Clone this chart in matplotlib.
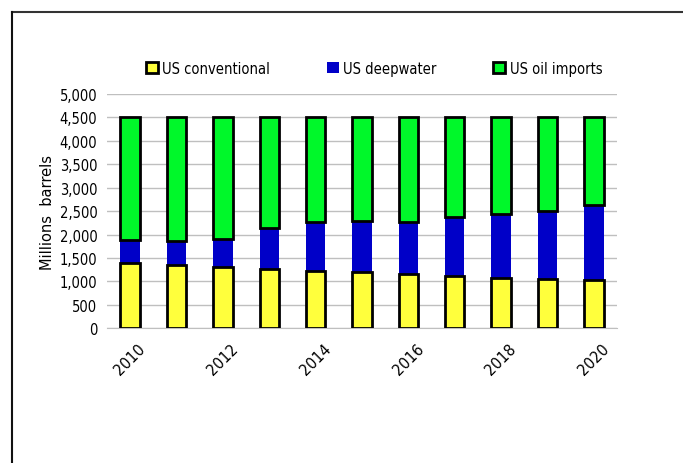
import numpy as np
import matplotlib
matplotlib.use('Agg')
import matplotlib.pyplot as plt
from matplotlib.lines import Line2D
from matplotlib.patches import Patch
from matplotlib import font_manager

years = [2010, 2011, 2012, 2013, 2014, 2015, 2016, 2017, 2018, 2019, 2020]
conventional = [1400, 1360, 1315, 1270, 1230, 1205, 1165, 1120, 1075, 1050, 1020]
deepwater = [490, 510, 590, 865, 1045, 1085, 1095, 1250, 1365, 1445, 1610]
imports = [4500 - c - d for c, d in zip(conventional, deepwater)]
shown_years = ['2010', '', '2012', '', '2014', '', '2016', '', '2018', '', '2020']

yellow = '#FFFF3C'
blue = '#0000C8'
green = '#00F82A'

# condensed face for the Excel-like labels, if there is one
cond = None
for f in font_manager.findSystemFonts():
    if 'DejaVuSansCondensed.ttf' in f:
        cond = f
        break
if cond:
    small = font_manager.FontProperties(fname=cond, size=10.5)
    xfont = font_manager.FontProperties(fname=cond, size=11.5)
else:
    small = font_manager.FontProperties(family='DejaVu Sans', size=9.5)
    xfont = font_manager.FontProperties(family='DejaVu Sans', size=10)

fig = plt.figure(figsize=(6.83, 4.64), dpi=100)
ax = fig.add_axes([0.1567, 0.2903, 0.7467, 0.5052])

x = np.arange(len(years))
w = 0.42
bottom2 = np.array(conventional) + np.array(deepwater)
ax.bar(x, deepwater, w, bottom=conventional, color=blue, linewidth=0, zorder=2)
ax.bar(x, conventional, w, color=yellow, edgecolor='black', linewidth=2, zorder=3)
ax.bar(x, imports, w, bottom=bottom2, color=green, edgecolor='black', linewidth=2, zorder=3)

ax.set_xlim(-0.5, len(years) - 0.5)
ax.set_ylim(0, 5000)
ax.set_yticks(range(0, 5001, 500))
ax.set_yticklabels(['{:,}'.format(v) for v in range(0, 5001, 500)], fontproperties=small)
ax.set_xticks(x)
ax.set_xticklabels(shown_years, rotation=45, ha='center', va='top', fontproperties=xfont)
ax.tick_params(axis='y', length=0, pad=7)
ax.tick_params(axis='x', length=0, pad=9)
ax.grid(axis='y', color='#BFBFBF', linewidth=1, zorder=0)
ax.set_axisbelow(True)
for s in ['left', 'right', 'top']:
    ax.spines[s].set_visible(False)
ax.spines['bottom'].set_color('#BFBFBF')
ax.set_ylabel('Millions  barrels', fontsize=10.5, labelpad=3)

handles = [Patch(facecolor=yellow, edgecolor='black', linewidth=2),
           Patch(facecolor=blue, edgecolor=blue, linewidth=0),
           Patch(facecolor=green, edgecolor='black', linewidth=2)]
fig.legend(handles, ['US conventional', 'US deepwater', 'US oil imports'],
           loc='center', bbox_to_anchor=(0.548, 0.851), ncol=3, frameon=False,
           prop=small, handlelength=0.8, handleheight=0.8,
           handletextpad=0.3, columnspacing=3.9)

# outer frame, only top and left visible
fig.add_artist(Line2D([0.017, 1.0], [0.973, 0.973], color='#333333', linewidth=1.5))
fig.add_artist(Line2D([0.017, 0.017], [0.0, 0.973], color='#111111', linewidth=1.5))

fig.savefig('out.png', dpi=100)
